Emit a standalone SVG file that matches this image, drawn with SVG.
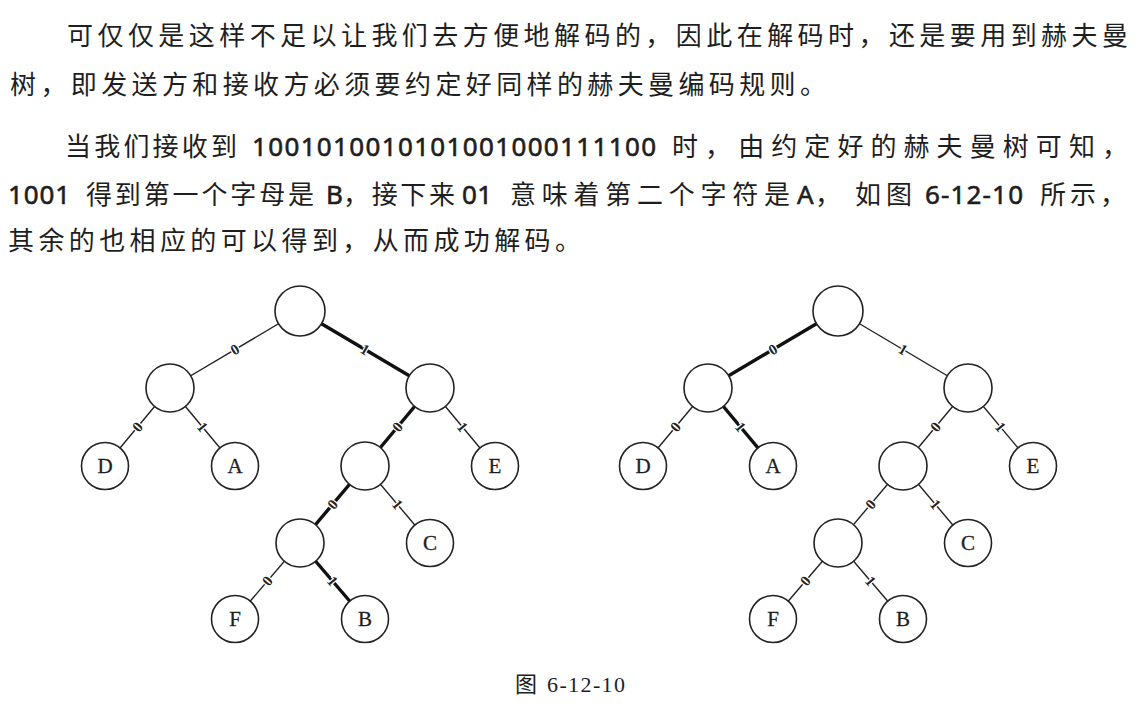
<svg xmlns="http://www.w3.org/2000/svg" width="1143" height="713" viewBox="0 0 1143 713">
<style>
.p{font-family:"Noto Sans CJK SC","Noto Sans",sans-serif;font-size:26px;fill:#1e1e1e}
.d{font-family:"Noto Sans","Noto Sans CJK SC",sans-serif;font-size:26px;fill:#1e1e1e;stroke:#1e1e1e;stroke-width:0.6}
.cap{font-family:"Liberation Serif","Noto Sans CJK SC",serif;font-size:22px;fill:#1e1e1e}
.e{stroke:#222;stroke-width:1.4;fill:none}
.b{stroke:#111;stroke-width:3.4;fill:none}
.n{fill:#fff;stroke:#222;stroke-width:1.6}
.t{font-family:"Liberation Serif",serif;font-size:21px;fill:#1e1e1e;stroke:#1e1e1e;stroke-width:0.3;text-anchor:middle}
.m{font-family:"Liberation Serif",serif;font-size:15px;font-weight:bold;fill:#222;text-anchor:middle;dominant-baseline:central;stroke:#fff;stroke-width:2.5;paint-order:stroke}
</style>
<g id="paragraph">
<text class="p" x="67" y="45" textLength="1061" lengthAdjust="spacing">可仅仅是这样不足以让我们去方便地解码的，因此在解码时，还是要用到赫夫曼</text>
<text class="p" x="10" y="94" textLength="816" lengthAdjust="spacing">树，即发送方和接收方必须要约定好同样的赫夫曼编码规则。</text>
<text class="p" x="65" y="156" textLength="172" lengthAdjust="spacing">当我们接收到</text>
<text class="d" x="252" y="156" textLength="404" lengthAdjust="spacing">1001010010101001000111100</text>
<text class="p" x="672" y="156" textLength="456" lengthAdjust="spacing">时，由约定好的赫夫曼树可知，</text>
<text class="d" x="8" y="204" textLength="62" lengthAdjust="spacing">1001</text>
<text class="p" x="86" y="204" textLength="228" lengthAdjust="spacing">得到第一个字母是</text>
<text class="d" x="326" y="204">B</text>
<text class="p" x="343" y="204" textLength="112" lengthAdjust="spacing">，接下来</text>
<text class="d" x="462" y="204" textLength="30" lengthAdjust="spacing">01</text>
<text class="p" x="510" y="204" textLength="280" lengthAdjust="spacing">意味着第二个字符是</text>
<text class="d" x="797" y="204">A</text>
<text class="p" x="815" y="204">，</text>
<text class="p" x="855" y="204" textLength="57" lengthAdjust="spacing">如图</text>
<text class="d" x="925" y="204" textLength="98" lengthAdjust="spacing">6-12-10</text>
<text class="p" x="1040" y="204" textLength="86" lengthAdjust="spacing">所示，</text>
<text class="p" x="8" y="250" textLength="573" lengthAdjust="spacing">其余的也相应的可以得到，从而成功解码。</text>
</g>
<g id="tree1">
<g id="connectors1">
<line class="e" x1="300" y1="311" x2="170" y2="388"/>
<line class="b" x1="300" y1="311" x2="430" y2="388"/>
<line class="e" x1="170" y1="388" x2="105" y2="466"/>
<line class="e" x1="170" y1="388" x2="235" y2="466"/>
<line class="b" x1="430" y1="388" x2="365" y2="466"/>
<line class="e" x1="430" y1="388" x2="495" y2="466"/>
<line class="b" x1="365" y1="466" x2="300" y2="543"/>
<line class="e" x1="365" y1="466" x2="430" y2="543"/>
<line class="e" x1="300" y1="543" x2="235" y2="619"/>
<line class="b" x1="300" y1="543" x2="365" y2="619"/>
<text class="m" transform="translate(235,349.5) rotate(-30.6)">0</text>
<text class="m" transform="translate(365,349.5) rotate(30.6)">1</text>
<text class="m" transform="translate(137.5,427) rotate(-50.2)">0</text>
<text class="m" transform="translate(202.5,427) rotate(50.2)">1</text>
<text class="m" transform="translate(397.5,427) rotate(-50.2)">0</text>
<text class="m" transform="translate(462.5,427) rotate(50.2)">1</text>
<text class="m" transform="translate(332.5,504.5) rotate(-49.8)">0</text>
<text class="m" transform="translate(397.5,504.5) rotate(49.8)">1</text>
<text class="m" transform="translate(267.5,581) rotate(-49.5)">0</text>
<text class="m" transform="translate(332.5,581) rotate(49.5)">1</text>
</g>
<g id="t1-root"><circle class="n" cx="300" cy="311" r="25"/></g>
<g id="t1-n0"><circle class="n" cx="170" cy="388" r="24"/></g>
<g id="t1-n1"><circle class="n" cx="430" cy="388" r="24"/></g>
<g id="t1-D"><circle class="n" cx="105" cy="466" r="23.5"/><text class="t" x="105" y="473">D</text></g>
<g id="t1-A"><circle class="n" cx="235" cy="466" r="23.5"/><text class="t" x="235" y="473">A</text></g>
<g id="t1-n10"><circle class="n" cx="365" cy="466" r="24"/></g>
<g id="t1-E"><circle class="n" cx="495" cy="466" r="23.5"/><text class="t" x="495" y="473">E</text></g>
<g id="t1-n100"><circle class="n" cx="300" cy="543" r="24"/></g>
<g id="t1-C"><circle class="n" cx="430" cy="543" r="23.5"/><text class="t" x="430" y="550">C</text></g>
<g id="t1-F"><circle class="n" cx="235" cy="619" r="23.5"/><text class="t" x="235" y="626">F</text></g>
<g id="t1-B"><circle class="n" cx="365" cy="619" r="23.5"/><text class="t" x="365" y="626">B</text></g>
</g>
<g id="tree2" transform="translate(538,0)">
<g id="connectors2">
<line class="b" x1="300" y1="311" x2="170" y2="388"/>
<line class="e" x1="300" y1="311" x2="430" y2="388"/>
<line class="e" x1="170" y1="388" x2="105" y2="466"/>
<line class="b" x1="170" y1="388" x2="235" y2="466"/>
<line class="e" x1="430" y1="388" x2="365" y2="466"/>
<line class="e" x1="430" y1="388" x2="495" y2="466"/>
<line class="e" x1="365" y1="466" x2="300" y2="543"/>
<line class="e" x1="365" y1="466" x2="430" y2="543"/>
<line class="e" x1="300" y1="543" x2="235" y2="619"/>
<line class="e" x1="300" y1="543" x2="365" y2="619"/>
<text class="m" transform="translate(235,349.5) rotate(-30.6)">0</text>
<text class="m" transform="translate(365,349.5) rotate(30.6)">1</text>
<text class="m" transform="translate(137.5,427) rotate(-50.2)">0</text>
<text class="m" transform="translate(202.5,427) rotate(50.2)">1</text>
<text class="m" transform="translate(397.5,427) rotate(-50.2)">0</text>
<text class="m" transform="translate(462.5,427) rotate(50.2)">1</text>
<text class="m" transform="translate(332.5,504.5) rotate(-49.8)">0</text>
<text class="m" transform="translate(397.5,504.5) rotate(49.8)">1</text>
<text class="m" transform="translate(267.5,581) rotate(-49.5)">0</text>
<text class="m" transform="translate(332.5,581) rotate(49.5)">1</text>
</g>
<g id="t2-root"><circle class="n" cx="300" cy="311" r="25"/></g>
<g id="t2-n0"><circle class="n" cx="170" cy="388" r="24"/></g>
<g id="t2-n1"><circle class="n" cx="430" cy="388" r="24"/></g>
<g id="t2-D"><circle class="n" cx="105" cy="466" r="23.5"/><text class="t" x="105" y="473">D</text></g>
<g id="t2-A"><circle class="n" cx="235" cy="466" r="23.5"/><text class="t" x="235" y="473">A</text></g>
<g id="t2-n10"><circle class="n" cx="365" cy="466" r="24"/></g>
<g id="t2-E"><circle class="n" cx="495" cy="466" r="23.5"/><text class="t" x="495" y="473">E</text></g>
<g id="t2-n100"><circle class="n" cx="300" cy="543" r="24"/></g>
<g id="t2-C"><circle class="n" cx="430" cy="543" r="23.5"/><text class="t" x="430" y="550">C</text></g>
<g id="t2-F"><circle class="n" cx="235" cy="619" r="23.5"/><text class="t" x="235" y="626">F</text></g>
<g id="t2-B"><circle class="n" cx="365" cy="619" r="23.5"/><text class="t" x="365" y="626">B</text></g>
</g>
<g id="caption">
<text class="cap" x="515" y="692">图</text>
<text class="cap" x="547" y="692" textLength="78" lengthAdjust="spacing">6-12-10</text>
</g>
</svg>
